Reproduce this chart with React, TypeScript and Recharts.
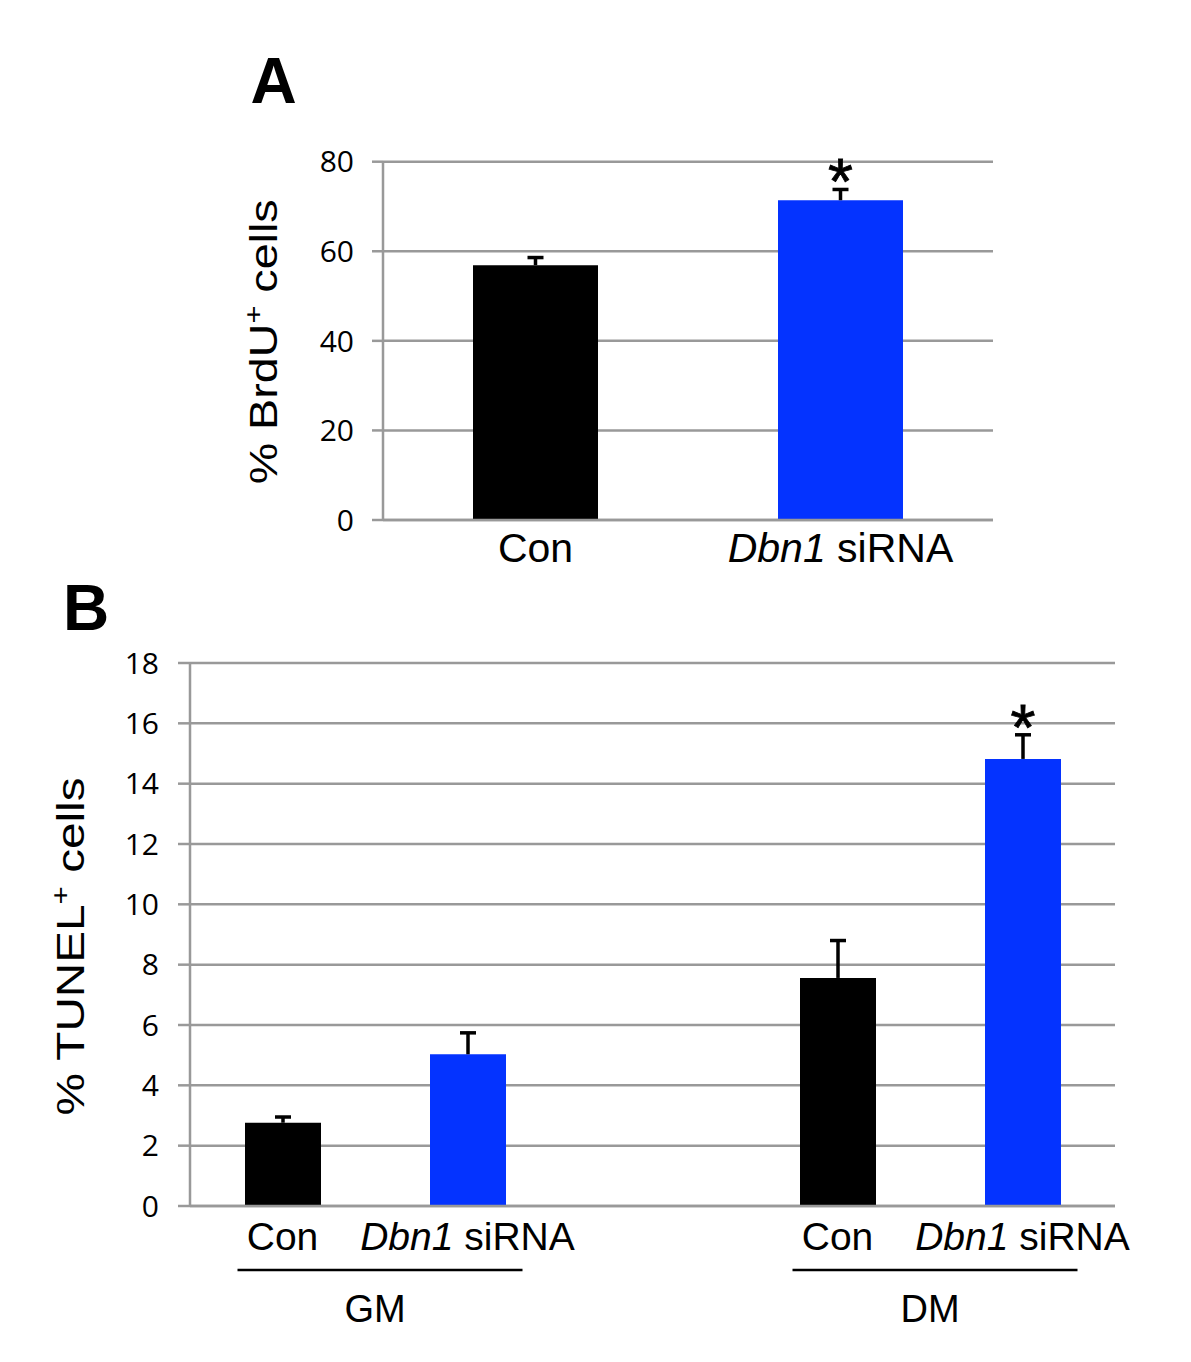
import React from 'react';
import { BarChart, Bar, XAxis, YAxis, CartesianGrid, Cell, LabelList } from 'recharts';

// ---------- Panel A data ----------
const categoriesA = ['Con', 'Dbn1 siRNA'];
const valuesA = [56.9, 71.4];
const errorsA = [1.7, 2.4];
const sigA = ['', '*'];
const ticksA = [0, 20, 40, 60, 80];

// ---------- Panel B data ----------
const categoriesB = ['Con', 'Dbn1 siRNA', '', 'Con', 'Dbn1 siRNA'];
const groupsB = ['GM', 'GM', '', 'DM', 'DM'];
const valuesB: (number | null)[] = [2.76, 5.03, null, 7.56, 14.82];
const errorsB: (number | null)[] = [0.19, 0.71, null, 1.24, 0.8];
const sigB = ['', '', '', '', '*'];
const ticksB = [0, 2, 4, 6, 8, 10, 12, 14, 16, 18];

const BLACK = '#000000';
const BLUE = '#0433FF';
const GRID = '#999999';
const SANS = "'Liberation Sans', Arial, sans-serif";
const TICKFONT = "'Open Sans', sans-serif";

const colorFor = (cat: string) => (cat === 'Con' ? BLACK : BLUE);

const dataA = categoriesA.map((c, i) => ({ cat: c, value: valuesA[i], err: errorsA[i], sig: sigA[i] }));
const dataB = categoriesB.map((c, i) => ({
  cat: c,
  key: `${groupsB[i]}-${i}`,
  value: valuesB[i],
  err: errorsB[i],
  sig: sigB[i],
}));

const ErrShape = (props: any) => {
  const { x, y, width, height } = props;
  if (height == null || !isFinite(height) || height <= 0 || !isFinite(y)) return null;
  const cx = x + width / 2;
  return (
    <g>
      <line x1={cx} x2={cx} y1={y + height} y2={y} stroke="#000" strokeWidth={3.5} />
      <line x1={cx - 8} x2={cx + 8} y1={y} y2={y} stroke="#000" strokeWidth={3.5} />
    </g>
  );
};

const Star = (props: any) => {
  const { x, y, width, value } = props;
  if (!value) return null;
  return (
    <text
      x={x + width / 2}
      y={y + 15}
      textAnchor="middle"
      fontFamily={SANS}
      fontSize={64}
      fill="#000"
      stroke="#000"
      strokeWidth={0.8}
    >
      {value}
    </text>
  );
};

const CatLabel = ({ label }: { label: string }) =>
  label === 'Dbn1 siRNA' ? (
    <>
      <tspan fontStyle="italic">Dbn1</tspan>
      <tspan> siRNA</tspan>
    </>
  ) : (
    <>{label}</>
  );

const TickA = (props: any) => {
  const { x, y, payload } = props;
  const label = categoriesA[payload.index];
  return (
    <text x={x} y={y + 42} textAnchor="middle" fontFamily={SANS} fontSize={41} fill="#000">
      <CatLabel label={label} />
    </text>
  );
};

const TickB = (props: any) => {
  const { x, y, payload, width, visibleTicksCount } = props;
  const i = payload.index;
  const label = categoriesB[i];
  const step = width && visibleTicksCount ? width / visibleTicksCount : 185;
  const isGroupStart = groupsB[i] !== '' && (i === 0 || groupsB[i - 1] !== groupsB[i]);
  return (
    <g>
      {label ? (
        <text x={x} y={y + 44} textAnchor="middle" fontFamily={SANS} fontSize={39} fill="#000">
          <CatLabel label={label} />
        </text>
      ) : null}
      {isGroupStart ? (
        <g>
          <line x1={x - 45} x2={x + step + 55} y1={y + 64} y2={y + 64} stroke="#000" strokeWidth={2.5} />
          <text x={x + step / 2} y={y + 116} textAnchor="middle" fontFamily={SANS} fontSize={38} fill="#000">
            {groupsB[i]}
          </text>
        </g>
      ) : null}
    </g>
  );
};

const makeYLabel = (len: number, dyCenter: number, word: string) => (props: any) => {
  const vb = props.viewBox || { x: 0, y: 0, width: 0, height: 0 };
  const bx = vb.x - 46;
  const cy = vb.y + vb.height / 2 + dyCenter;
  return (
    <text
      x={bx}
      y={cy}
      transform={`rotate(-90, ${bx}, ${cy})`}
      textAnchor="middle"
      fontFamily={SANS}
      fontSize={38}
      fill="#000"
      textLength={len}
      lengthAdjust="spacingAndGlyphs"
    >
      {'% ' + word}
      <tspan dy={-15} fontSize={25}>+</tspan>
      <tspan dy={15}> cells</tspan>
    </text>
  );
};

export default function App() {
  return (
    <div style={{ position: 'absolute', left: 0, top: 0, width: 1191, height: 1362, background: '#fff' }}>
      <div style={{ position: 'absolute', left: 0, top: 0 }}>
        <BarChart
          width={1191}
          height={600}
          data={dataA}
          margin={{ top: 161.7, right: 198, bottom: 20, left: 323 }}
        >
          <CartesianGrid vertical={false} stroke={GRID} strokeWidth={2.5} />
          <XAxis
            dataKey="cat"
            axisLine={{ stroke: GRID, strokeWidth: 2.5 }}
            tickLine={false}
            tickSize={0}
            tickMargin={0}
            height={60}
            interval={0}
            tick={(p: any) => <TickA {...p} />}
          />
          <YAxis
            domain={[0, 80]}
            ticks={ticksA}
            interval={0}
            width={60}
            axisLine={{ stroke: GRID, strokeWidth: 2.5 }}
            tickLine={{ stroke: GRID, strokeWidth: 2.5 }}
            tickSize={11}
            tickMargin={18}
            tick={{ fontFamily: TICKFONT, fontSize: 30, fill: '#000' }}
            label={makeYLabel(285, 1, 'BrdU')}
          />
          <Bar dataKey="value" stackId="s" barSize={125} isAnimationActive={false}>
            {dataA.map((d, i) => (
              <Cell key={i} fill={colorFor(d.cat)} />
            ))}
          </Bar>
          <Bar dataKey="err" stackId="s" barSize={125} isAnimationActive={false} shape={ErrShape}>
            <LabelList dataKey="sig" content={Star} />
          </Bar>
        </BarChart>
      </div>
      <div style={{ position: 'absolute', left: 0, top: 600 }}>
        <BarChart
          width={1191}
          height={762}
          data={dataB}
          margin={{ top: 63, right: 76, bottom: 26, left: 130 }}
        >
          <CartesianGrid vertical={false} stroke={GRID} strokeWidth={2.5} />
          <XAxis
            dataKey="key"
            axisLine={{ stroke: GRID, strokeWidth: 2.5 }}
            tickLine={false}
            tickSize={0}
            tickMargin={0}
            height={130}
            interval={0}
            tick={(p: any) => <TickB {...p} />}
          />
          <YAxis
            domain={[0, 18]}
            ticks={ticksB}
            interval={0}
            width={60}
            axisLine={{ stroke: GRID, strokeWidth: 2.5 }}
            tickLine={{ stroke: GRID, strokeWidth: 2.5 }}
            tickSize={12}
            tickMargin={19}
            tick={{ fontFamily: TICKFONT, fontSize: 30, fill: '#000' }}
            label={makeYLabel(338, 12, 'TUNEL')}
          />
          <Bar dataKey="value" stackId="s" barSize={76} isAnimationActive={false}>
            {dataB.map((d, i) => (
              <Cell key={i} fill={colorFor(d.cat)} />
            ))}
          </Bar>
          <Bar dataKey="err" stackId="s" barSize={76} isAnimationActive={false} shape={ErrShape}>
            <LabelList dataKey="sig" content={Star} />
          </Bar>
        </BarChart>
      </div>
      <svg width={1191} height={1362} style={{ position: 'absolute', left: 0, top: 0, pointerEvents: 'none' }}>
        <text x={273.5} y={103} textAnchor="middle" fontFamily={SANS} fontWeight="bold" fontSize={64} fill="#000">
          A
        </text>
        <text x={86} y={630} textAnchor="middle" fontFamily={SANS} fontWeight="bold" fontSize={64} fill="#000">
          B
        </text>
      </svg>
    </div>
  );
}
